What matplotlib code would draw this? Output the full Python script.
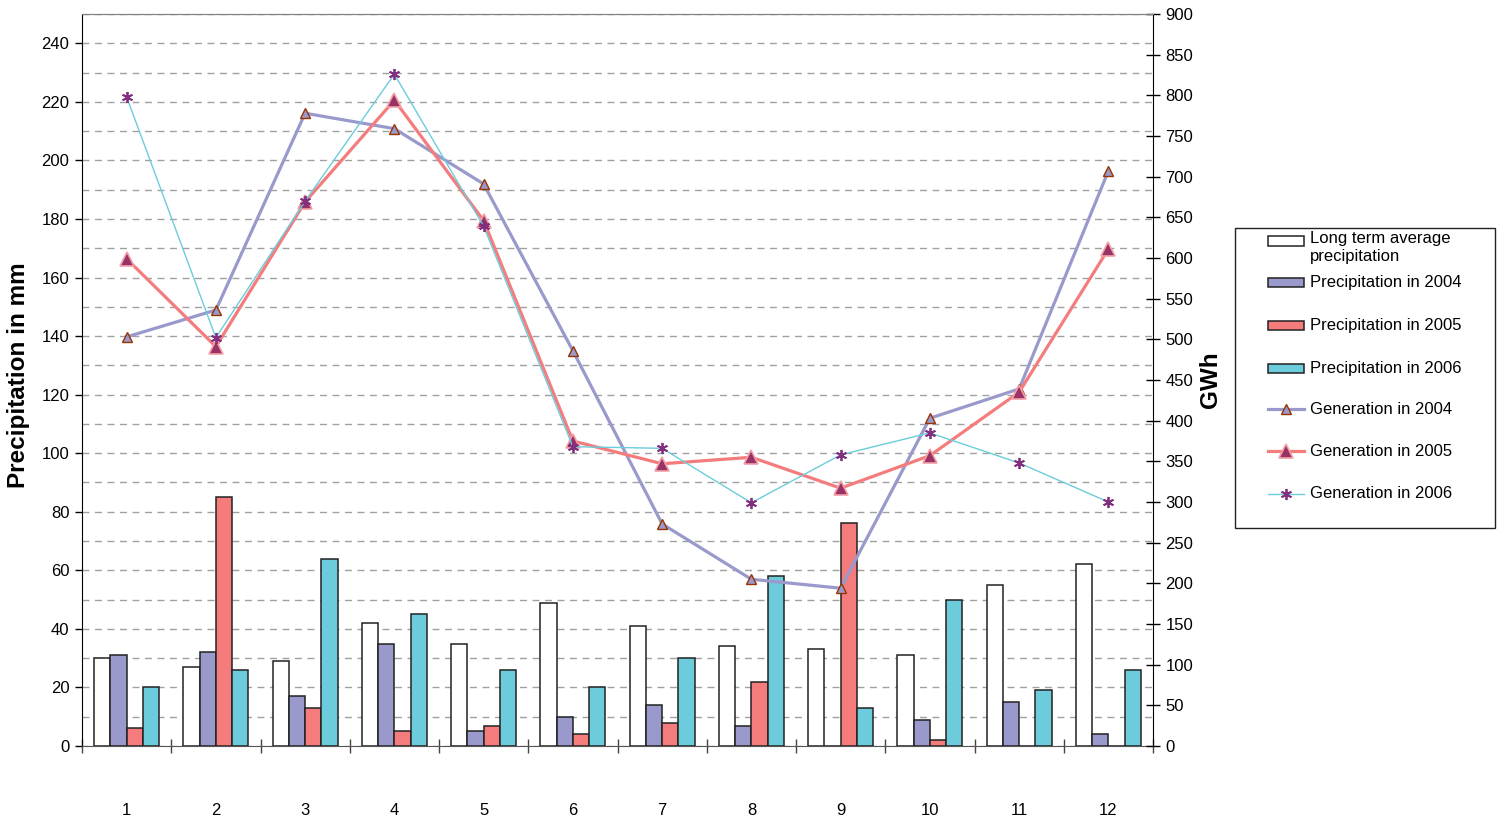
import numpy as np
import matplotlib
matplotlib.use("Agg")
import matplotlib.pyplot as plt
from matplotlib.patches import Rectangle
from matplotlib.lines import Line2D

plt.rcParams['font.family'] = ['Liberation Sans', 'DejaVu Sans']

months = [1, 2, 3, 4, 5, 6, 7, 8, 9, 10, 11, 12]

# Monthly precipitation, mm
precip_longterm = [30, 27, 29, 42, 35, 49, 41, 34, 33, 31, 55, 62]
precip_2004 = [31, 32, 17, 35, 5, 10, 14, 7, 0, 9, 15, 4]
precip_2005 = [6, 85, 13, 5, 7, 4, 8, 22, 76, 2, 0, 0]
precip_2006 = [20, 26, 64, 45, 26, 20, 30, 58, 13, 50, 19, 26]

# Monthly generation, GWh
gen_2004 = [503, 536, 778, 759, 691, 486, 273, 205, 194, 403, 439, 707]
gen_2005 = [599, 491, 669, 794, 646, 375, 347, 355, 317, 357, 435, 611]
gen_2006 = [798, 502, 670, 826, 639, 368, 366, 299, 358, 385, 348, 300]

W, H = 1502, 827
fig = plt.figure(figsize=(W / 100, H / 100), dpi=100)

def fx(px):
    return px / W

def fy(py):
    return 1 - py / H

ax = fig.add_axes([fx(82), fy(746), fx(1153) - fx(82), fy(14) - fy(746)])
ax2 = ax.twinx()

c_white = '#FFFFFF'
c_purple = '#9999CC'
c_red = '#F47C7C'
c_cyan = '#6CCCDC'
edge = '#222222'

# marker / line styles for the generation series
style_04 = dict(color=c_purple, linewidth=2.3, marker='^', markersize=6.5,
                markerfacecolor='#9999CC', markeredgecolor='#993300',
                markeredgewidth=1.0)
style_05 = dict(color=c_red, linewidth=2.3, marker='^', markersize=10,
                markerfacecolor='#993366', markeredgecolor='#F4A0A8',
                markeredgewidth=1.2)
style_06 = dict(color=c_cyan, linewidth=1.0, marker=(6, 2, 0), markersize=8,
                markeredgecolor='#80307F', markeredgewidth=1.3)

x = np.arange(len(months)) + 1
bw = 1 / 5.5
series = [(precip_longterm, c_white), (precip_2004, c_purple),
          (precip_2005, c_red), (precip_2006, c_cyan)]
for i, (vals, col) in enumerate(series):
    ax.bar(x + (i - 1.5) * bw, vals, width=bw, color=col, edgecolor=edge,
           linewidth=1.1, zorder=3)

ax.set_xlim(0.5, 12.5)
ax.set_ylim(0, 250)
ax.set_yticks(np.arange(0, 241, 20))
ax.set_yticks(np.arange(0, 251, 10), minor=True)
ax.yaxis.grid(True, which='both', linestyle=(0, (5, 4)), color='#A0A0A0',
              linewidth=1.0, zorder=0)
ax.set_axisbelow(True)
ax.tick_params(axis='y', which='major', direction='out', length=5, width=1,
               labelsize=12, pad=4)
ax.tick_params(axis='y', which='minor', length=0)

ax.set_xticks(x)
ax.set_xticklabels([str(m) for m in months])
ax.set_xticks(np.arange(0.5, 12.6, 1), minor=True)
ax.tick_params(axis='x', which='major', length=0, labelsize=12, pad=41)
ax.tick_params(axis='x', which='minor', direction='inout', length=10,
               width=1, color='#444444')

ax.set_ylabel('Precipitation in mm', fontsize=17.5, fontweight='bold')
ax.yaxis.set_label_coords(-0.049, 0.506)

ax.spines['left'].set_color('black')
ax.spines['top'].set_color('#808080')
ax.spines['bottom'].set_color('#555555')
ax.spines['right'].set_visible(False)

# Generation lines on the right axis
ax2.plot(x, gen_2004, zorder=4, **style_04)
ax2.plot(x, gen_2005, zorder=5, **style_05)
ax2.plot(x, gen_2006, zorder=6, **style_06)

ax2.set_ylim(0, 900)
ax2.set_yticks(np.arange(0, 901, 50))
ax2.tick_params(axis='y', direction='inout', length=10, width=1,
                labelsize=12, pad=4)
ax2.set_ylabel('GWh', fontsize=17.5, fontweight='bold', labelpad=4)
ax2.spines['right'].set_color('black')
ax2.spines['top'].set_color('#808080')
ax2.spines['left'].set_visible(False)
ax2.spines['bottom'].set_visible(False)

# Legend panel
box = Rectangle((fx(1235), fy(528)), fx(1495) - fx(1235), fy(228) - fy(528),
                transform=fig.transFigure, facecolor='white',
                edgecolor='#222222', linewidth=1.0)
fig.add_artist(box)

hx0, hx1, tx = 1268, 1304, 1310
hxm = (hx0 + hx1) / 2
legend_rows = [
    ('patch', c_white, 'Long term average\nprecipitation', 241),
    ('patch', c_purple, 'Precipitation in 2004', 282),
    ('patch', c_red, 'Precipitation in 2005', 325),
    ('patch', c_cyan, 'Precipitation in 2006', 368),
    ('line', style_04, 'Generation in 2004', 409),
    ('line', style_05, 'Generation in 2005', 451),
    ('line', style_06, 'Generation in 2006', 494),
]
for kind, sty, label, yc in legend_rows:
    if kind == 'patch':
        fig.add_artist(Rectangle((fx(hx0), fy(yc + 4.5)), fx(hx1) - fx(hx0),
                                 fy(yc - 4.5) - fy(yc + 4.5),
                                 transform=fig.transFigure, facecolor=sty,
                                 edgecolor=edge, linewidth=1.1))
    else:
        line_kw = {k: v for k, v in sty.items() if not k.startswith('marker')}
        mark_kw = {k: v for k, v in sty.items() if k.startswith('marker')}
        fig.add_artist(Line2D([fx(hx0), fx(hx1)], [fy(yc), fy(yc)],
                              transform=fig.transFigure, **line_kw))
        fig.add_artist(Line2D([fx(hxm)], [fy(yc)], transform=fig.transFigure,
                              linestyle='none', **mark_kw))
    if '\n' in label:
        fig.text(fx(tx), fy(yc - 10), label, fontsize=12, va='top', ha='left',
                 linespacing=1.25)
    else:
        fig.text(fx(tx), fy(yc), label, fontsize=12, va='center', ha='left')

fig.savefig('out.png', dpi=100)
